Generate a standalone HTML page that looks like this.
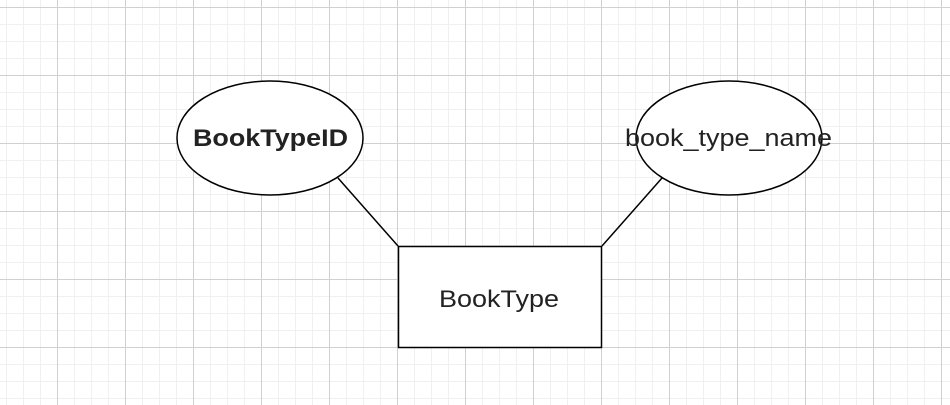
<!DOCTYPE html>
<html><head><style>
html,body{margin:0;padding:0;width:950px;height:405px;overflow:hidden;background:#fff}
</style></head><body>
<svg width="950" height="405" xmlns="http://www.w3.org/2000/svg">
<defs>
<pattern id="minor" width="17" height="17" patternUnits="userSpaceOnUse" x="6" y="7">
<path d="M0 0.5H17M0.5 0V17" stroke="#f0f0f0" stroke-width="1" fill="none"/>
</pattern>
<pattern id="major" width="68" height="68" patternUnits="userSpaceOnUse" x="57" y="7">
<path d="M0 0.5H68M0.5 0V68" stroke="#d0d0d0" stroke-width="1" fill="none"/>
</pattern>
</defs>
<rect width="950" height="405" fill="url(#minor)"/>
<rect width="950" height="405" fill="url(#major)"/>
<line x1="338" y1="178" x2="398" y2="246" stroke="#000" stroke-width="1.5"/>
<line x1="662" y1="178" x2="602" y2="246" stroke="#000" stroke-width="1.5"/>
<ellipse cx="270" cy="138" rx="93" ry="57" fill="#fff" stroke="#000" stroke-width="1.5"/>
<ellipse cx="729" cy="138" rx="93" ry="57" fill="#fff" stroke="#000" stroke-width="1.5"/>
<rect x="398.5" y="246.5" width="203" height="101" fill="#fff" stroke="#000" stroke-width="1.5"/>
<text x="193" y="146" textLength="155" lengthAdjust="spacingAndGlyphs" font-family="Liberation Sans, sans-serif" font-size="24" font-weight="bold" fill="#222">BookTypeID</text>
<text x="625" y="146" textLength="207" lengthAdjust="spacingAndGlyphs" font-family="Liberation Sans, sans-serif" font-size="24" fill="#222">book_type_name</text>
<text x="439" y="307" textLength="120" lengthAdjust="spacingAndGlyphs" font-family="Liberation Sans, sans-serif" font-size="24" fill="#222">BookType</text>
</svg>
</body></html>
